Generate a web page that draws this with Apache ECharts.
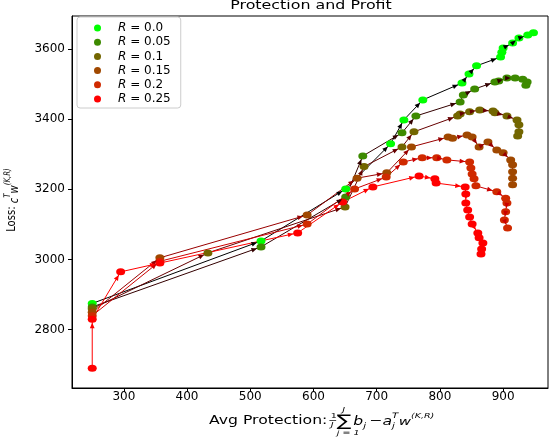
<!DOCTYPE html>
<html><head><meta charset="utf-8">
<script src="https://cdn.jsdelivr.net/npm/echarts@6/dist/echarts.min.js"></script>
<style>html,body{margin:0;padding:0;background:#fff}#c{width:551px;height:440px}</style>
</head><body><div id="c"></div>
<script>
// ---- data ----
const rValues = ['0.0', '0.05', '0.1', '0.15', '0.2', '0.25'];
const r00x = [250, 517, 651, 722, 743, 773, 835, 846, 858, 896, 898, 900, 915, 925, 939, 948];
const r00y = [2875, 3053, 3201, 3330, 3398, 3455, 3503, 3529, 3552, 3577, 3591, 3603, 3617, 3631, 3640, 3646];
const r05x = [250, 517, 651, 678, 740, 762, 832, 837, 855, 887, 893, 906, 919, 931, 938, 936];
const r05y = [2865, 3036, 3178, 3295, 3361, 3409, 3449, 3469, 3486, 3506, 3509, 3517, 3517, 3514, 3506, 3497];
const r10x = [250, 433, 650, 680, 740, 759, 828, 832, 847, 863, 884, 887, 906, 922, 925, 925, 923];
const r10y = [2860, 3019, 3150, 3265, 3321, 3364, 3409, 3415, 3421, 3426, 3423, 3418, 3409, 3398, 3384, 3364, 3352];
const r15x = [250, 357, 590, 669, 716, 755, 813, 820, 843, 851, 862, 876, 890, 900, 912, 915, 915, 915, 915];
const r15y = [2850, 3005, 3127, 3232, 3247, 3321, 3349, 3346, 3355, 3349, 3321, 3335, 3312, 3304, 3284, 3270, 3250, 3232, 3213];
const r20x = [250, 357, 590, 665, 715, 742, 772, 795, 811, 847, 849, 851, 854, 857, 890, 904, 906, 904, 902, 907];
const r20y = [2840, 2995, 3101, 3201, 3235, 3278, 3290, 3290, 3284, 3278, 3261, 3244, 3230, 3210, 3193, 3175, 3161, 3136, 3113, 3090];
const r25x = [250, 250, 295, 357, 575, 646, 694, 767, 792, 794, 840, 841, 841, 844, 847, 851, 860, 862, 868, 866, 865];
const r25y = [2690, 2830, 2965, 2990, 3076, 3164, 3207, 3238, 3230, 3218, 3207, 3187, 3161, 3141, 3121, 3101, 3076, 3062, 3047, 3030, 3016];
const xTicks = [300, 400, 500, 600, 700, 800, 900];
const yTicks = [2800, 3000, 3200, 3400, 3600];

// ---- styles ----
const pointColors = ['#00ff00', '#3d8a00', '#736600', '#a04800', '#d02a00', '#ff0000'];
const lineColors = ['#000000', '#330000', '#660000', '#990000', '#cc0000', '#ff0000'];
const MX = 4.5, MY = 3.5;

const allX = [r00x, r05x, r10x, r15x, r20x, r25x];
const allY = [r00y, r05y, r10y, r15y, r20y, r25y];
const names = rValues.map(v => 'R' + v);

const series = [];
allX.forEach((xs, k) => {
  const ys = allY[k];
  series.push({
    type: 'line', name: names[k],
    data: xs.map((x, i) => [x, ys[i]]),
    symbol: 'circle', symbolSize: [9, 7], symbolKeepAspect: false,
    itemStyle: { color: pointColors[k], opacity: 1 },
    lineStyle: { color: lineColors[k], width: 1 },
    animation: false, silent: true, emphasis: { disabled: true }, z: 2
  });
});
allX.forEach((xs, k) => {
  const ys = allY[k];
  const segs = [];
  for (let i = 0; i < xs.length - 1; i++) segs.push([xs[i], ys[i], xs[i + 1], ys[i + 1]]);
  series.push({
    type: 'custom', data: segs, encode: { x: [0, 2], y: [1, 3] }, clip: true,
    silent: true, animation: false, z: 3,
    renderItem: (params, api) => {
      const p0 = api.coord([api.value(0), api.value(1)]);
      const p1 = api.coord([api.value(2), api.value(3)]);
      const dx = p1[0] - p0[0], dy = p1[1] - p0[1];
      const len = Math.hypot(dx, dy);
      if (len < 8) return { type: 'group', children: [] };
      const ux = dx / len, uy = dy / len;
      const r = 1 / Math.sqrt((ux / MX) ** 2 + (uy / MY) ** 2);
      const tip = [p1[0] - ux * r, p1[1] - uy * r];
      const back = [tip[0] - ux * 5.5, tip[1] - uy * 5.5];
      const px = -uy * 2.4, py = ux * 2.4;
      return {
        type: 'polygon',
        shape: { points: [tip, [back[0] + px, back[1] + py], [back[0] - px, back[1] - py]] },
        style: { fill: lineColors[k] }
      };
    }
  });
});

const FONT = 'DejaVu Sans';
const SX = 1.36;
function t(text, x, y, size, italic) {
  return { type: 'text', x: x, y: y, style: { text: text, fontSize: size, fontFamily: FONT, fontStyle: italic ? 'italic' : 'normal', fill: '#000', textVerticalAlign: 'middle' } };
}

const chart = echarts.init(document.getElementById('c'), null, { renderer: 'canvas' });
chart.setOption({
  backgroundColor: '#fff',
  animation: false,
  grid: { left: 72, right: 3, top: 16, bottom: 52, show: true, borderColor: '#000', borderWidth: 1, backgroundColor: 'transparent' },
  xAxis: {
    type: 'value', min: 218, max: 971,
    axisLine: { show: true, onZero: false, lineStyle: { color: '#000', width: 1 } },
    axisTick: { show: true, customValues: xTicks, length: 4, lineStyle: { color: '#000' } },
    axisLabel: { customValues: xTicks, formatter: v => String(v), color: '#000', fontSize: 12, fontFamily: FONT, margin: 3 },
    splitLine: { show: false }
  },
  yAxis: {
    type: 'value', min: 2634, max: 3694,
    axisLine: { show: true, onZero: false, lineStyle: { color: '#000', width: 1 } },
    axisTick: { show: true, customValues: yTicks, length: 4, lineStyle: { color: '#000' } },
    axisLabel: { customValues: yTicks, formatter: v => String(v), color: '#000', fontSize: 12, fontFamily: FONT, margin: 7 },
    splitLine: { show: false }
  },
  legend: {
    orient: 'vertical', left: 77, top: 17,
    padding: [4, 10, 2, 17],
    itemGap: 0.2, itemWidth: 9, itemHeight: 7,
    icon: 'circle', symbolKeepAspect: false,
    backgroundColor: 'rgba(255,255,255,0.85)', borderColor: '#cccccc', borderWidth: 1, borderRadius: 3,
    data: names,
    formatter: n => '{i|R} = ' + n.slice(1),
    textStyle: {
      fontSize: 12, fontFamily: FONT, color: '#000', lineHeight: 14, padding: [0, 0, 0, 11],
      rich: { i: { fontStyle: 'italic', fontSize: 12, fontFamily: FONT, color: '#000' } }
    },
    selectedMode: false
  },
  graphic: [
    { type: 'text', x: 311, y: 6.5, scaleX: 1.38, style: { text: 'Protection and Profit', fontSize: 11.5, fontFamily: FONT, fill: '#000', textAlign: 'center', textVerticalAlign: 'middle' } },
    {
      type: 'text', x: 12, y: 200, rotation: Math.PI / 2, scaleY: 1.3,
      style: {
        text: 'Loss: {i|c}{s|T}{i|w}{s|(K,R)}', fontSize: 10, fontFamily: FONT, fill: '#000',
        textAlign: 'center', textVerticalAlign: 'middle',
        rich: {
          i: { fontStyle: 'italic', fontSize: 10, fontFamily: FONT, lineHeight: 14, verticalAlign: 'bottom' },
          s: { fontStyle: 'italic', fontSize: 7, fontFamily: FONT, lineHeight: 14, verticalAlign: 'top' }
        }
      }
    },
    {
      type: 'group', x: 209, y: 421, scaleX: SX,
      children: [
        t('Avg Protection:', 0, 0, 11.5, false),
        t('1', 89.5, -5, 7, false),
        { type: 'line', shape: { x1: 88.5, y1: -0.5, x2: 93.5, y2: -0.5 }, style: { stroke: '#000', lineWidth: 0.6 } },
        t('J', 89.5, 4, 7, true),
        t('\u2211', 94, 1, 16, false),
        t('J', 98, -11, 7, true),
        t('j = 1', 94, 12, 7, true),
        t('b', 106, 1, 11.5, true),
        t('j', 113.5, 5, 7.5, true),
        t('\u2212', 118, 0, 11.5, false),
        t('a', 127.5, 1, 11.5, true),
        t('j', 134.5, 5, 7.5, true),
        t('T', 134.5, -5, 7.5, true),
        t('w', 139.5, 1, 11, true),
        t('(K,R)', 148.5, -5, 7, true)
      ]
    }
  ],
  series: series
});
</script>
</body></html>
